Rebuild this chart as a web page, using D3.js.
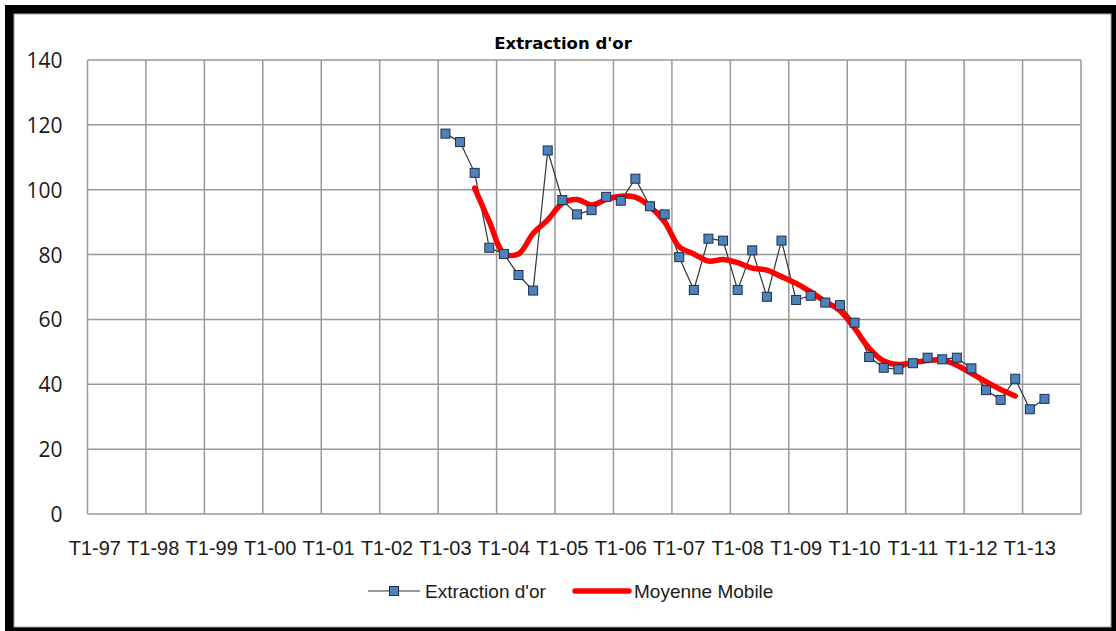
<!DOCTYPE html>
<html>
<head>
<meta charset="utf-8">
<script src="https://cdn.jsdelivr.net/npm/d3@7"></script>
<style>
  html, body { margin: 0; padding: 0; background: #fff; }
  svg { display: block; }
  .narrow { font-family: "Liberation Sans Narrow", "Arial Narrow", "Liberation Sans", sans-serif; }
</style>
</head>
<body>
<svg id="chart" width="1116" height="631"></svg>
<script>
// Quarter categories T1-97 ... T4-13
const years    = ['97','98','99','00','01','02','03','04','05','06','07','08','09','10','11','12','13'];
const quarters = ['T1','T2','T3','T4'];
const categories = years.flatMap(y => quarters.map(q => `${q}-${y}`));

// Extraction d'or, from T1-03 to T2-13
const extractionStart = 'T1-03';
const extraction = [
  117.3, 114.7, 105.2, 82.1, 80.2, 73.7, 68.9, 112.1,
  96.8, 92.4, 93.7, 97.8, 96.6, 103.4, 94.9, 92.4,
  79.2, 69.1, 84.9, 84.3, 69.1, 81.3, 67.0, 84.3,
  66.0, 67.3, 65.2, 64.4, 59.0, 48.4, 45.1, 44.6,
  46.5, 48.2, 47.7, 48.2, 44.9, 38.2, 35.2, 41.7,
  32.3, 35.5
];

// Moyenne Mobile, from T3-03 to T4-12
const movingStart = 'T3-03';
const moving = [
  100.5, 90.2, 80.4, 80.2, 86.5, 90.7, 95.8, 97.0,
  95.3, 97.0, 98.0, 97.7, 94.8, 90.1, 82.4, 80.2,
  78.0, 78.5, 77.5, 75.8, 75.2, 73.2, 71.1, 68.5,
  65.5, 62.7, 57.3, 51.1, 47.2, 46.1, 46.7, 47.3,
  47.5, 45.9, 43.4, 40.8, 38.4, 36.4
];

const yTicks = [0, 20, 40, 60, 80, 100, 120, 140];

const PLOT = { left: 87.5, right: 1081, top: 60, bottom: 514 };

const svg = d3.select('#chart');

// ── Frame ──
svg.append('rect').attr('x', 5).attr('y', 5).attr('width', 1111).attr('height', 626).attr('fill', '#000');
svg.append('rect').attr('x', 14).attr('y', 14).attr('width', 1097).attr('height', 613)
  .attr('fill', '#fff').attr('stroke', '#a6a6a6').attr('stroke-width', 1);

const x = d3.scaleBand().domain(categories).range([PLOT.left, PLOT.right]).padding(0);
const y = d3.scaleLinear().domain([0, 140]).range([PLOT.bottom, PLOT.top]);
const cx = c => x(c) + x.bandwidth() / 2;

// ── Grid ──
const grid = svg.append('g').attr('class', 'grid');
grid.selectAll('.hgrid').data(yTicks).join('line')
  .attr('x1', PLOT.left).attr('x2', PLOT.right)
  .attr('y1', d => y(d)).attr('y2', d => y(d))
  .attr('stroke', '#999').attr('stroke-width', 1.5);

const labelCats = categories.filter((c, i) => i % 4 === 0);
const vx = labelCats.map(c => x(c)).concat([PLOT.right]);
grid.selectAll('.vgrid').data(vx).join('line')
  .attr('x1', d => d).attr('x2', d => d)
  .attr('y1', PLOT.top).attr('y2', PLOT.bottom)
  .attr('stroke', '#999').attr('stroke-width', 1.5);

// ── Axes ──
const yAxis = svg.append('g')
  .attr('transform', `translate(${PLOT.left - 25},0)`)
  .call(d3.axisLeft(y).tickValues(yTicks).tickSize(0).tickPadding(0));
yAxis.select('.domain').remove();
yAxis.selectAll('text')
  .attr('font-family', '"Open Sans", "Liberation Sans", sans-serif')
  .attr('font-size', 21).attr('fill', '#1a1a1a').attr('dy', '0.36em');

const xAxis = svg.append('g')
  .attr('transform', `translate(0,${PLOT.bottom})`)
  .call(d3.axisBottom(x).tickValues(labelCats).tickSize(0).tickPadding(0));
xAxis.select('.domain').remove();
xAxis.selectAll('text')
  .attr('class', 'narrow')
  .attr('font-size', 20).attr('fill', '#1a1a1a')
  .attr('dy', null).attr('y', 41);

// ── Series ──
const offA = categories.indexOf(extractionStart);
const offB = categories.indexOf(movingStart);
const ptsA = extraction.map((v, i) => ({ c: categories[offA + i], v }));
const ptsB = moving.map((v, i) => ({ c: categories[offB + i], v }));

const lineA = d3.line().x(d => cx(d.c)).y(d => y(d.v));
const lineB = d3.line().x(d => cx(d.c)).y(d => y(d.v)).curve(d3.curveCatmullRom.alpha(0.5));

svg.append('path').datum(ptsA)
  .attr('d', lineA).attr('fill', 'none')
  .attr('stroke', '#333').attr('stroke-width', 1.2);

svg.append('path').datum(ptsB)
  .attr('d', lineB).attr('fill', 'none')
  .attr('stroke', '#ff0000').attr('stroke-width', 5.5)
  .attr('stroke-linejoin', 'round').attr('stroke-linecap', 'round');

const M = 9;
svg.append('g').selectAll('rect').data(ptsA).join('rect')
  .attr('x', d => cx(d.c) - M / 2).attr('y', d => y(d.v) - M / 2)
  .attr('width', M).attr('height', M)
  .attr('fill', '#4f81bd').attr('stroke', '#1c2f4a').attr('stroke-width', 1);

// ── Title ──
svg.append('text')
  .attr('x', 563).attr('y', 49)
  .attr('text-anchor', 'middle')
  .attr('font-family', '"DejaVu Sans", sans-serif')
  .attr('font-weight', 'bold').attr('font-size', 16.5)
  .attr('fill', '#000')
  .text("Extraction d'or");

// ── Legend ──
const legend = svg.append('g').attr('class', 'legend');
const LY = 591;
legend.append('line').attr('x1', 368).attr('x2', 420).attr('y1', LY).attr('y2', LY)
  .attr('stroke', '#333').attr('stroke-width', 1.2);
legend.append('rect').attr('x', 394 - M / 2).attr('y', LY - M / 2).attr('width', M).attr('height', M)
  .attr('fill', '#4f81bd').attr('stroke', '#1c2f4a').attr('stroke-width', 1);
legend.append('text').attr('class', 'narrow')
  .attr('x', 425).attr('y', LY).attr('dy', '0.35em')
  .attr('font-size', 19).attr('fill', '#1a1a1a')
  .text("Extraction d'or");

legend.append('line').attr('x1', 575).attr('x2', 629).attr('y1', LY).attr('y2', LY)
  .attr('stroke', '#ff0000').attr('stroke-width', 5.5).attr('stroke-linecap', 'round');
legend.append('text').attr('class', 'narrow')
  .attr('x', 634).attr('y', LY).attr('dy', '0.35em')
  .attr('font-size', 19).attr('fill', '#1a1a1a')
  .text('Moyenne Mobile');
</script>
</body>
</html>
